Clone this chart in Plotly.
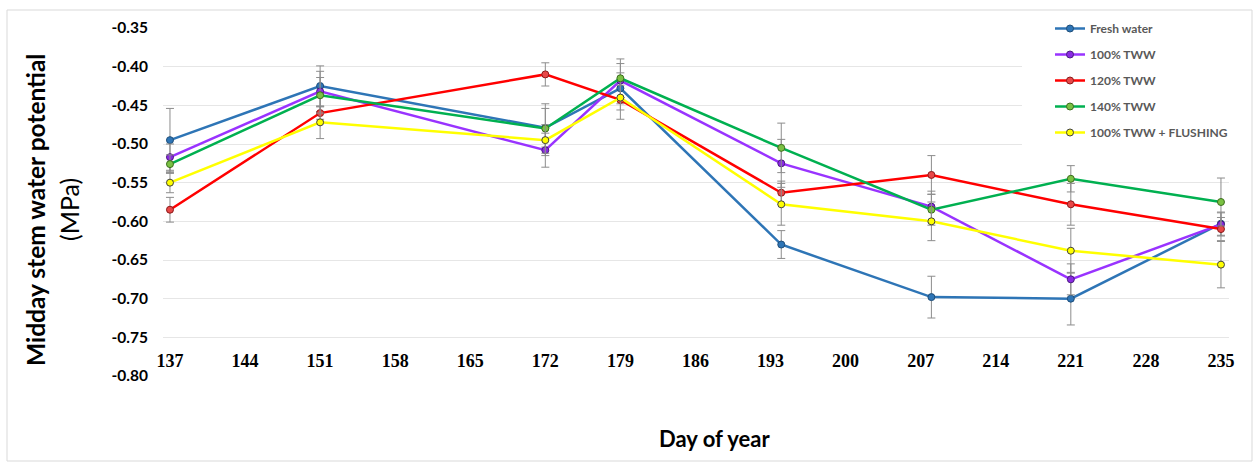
import plotly.graph_objects as go

days = [137, 151, 172, 179, 194, 208, 221, 235]
tick_days = [137, 144, 151, 158, 165, 172, 179, 186, 193, 200, 207, 214, 221, 228, 235]
y_ticks = [-0.35, -0.40, -0.45, -0.50, -0.55, -0.60, -0.65, -0.70, -0.75, -0.80]

series_names = ["Fresh water", "100% TWW", "120% TWW", "140% TWW", "100% TWW + FLUSHING"]

fresh = [-0.495, -0.425, -0.479, -0.428, -0.630, -0.698, -0.700, -0.603]
tww100 = [-0.517, -0.432, -0.508, -0.418, -0.525, -0.581, -0.675, -0.604]
tww120 = [-0.585, -0.460, -0.410, -0.443, -0.563, -0.540, -0.578, -0.610]
tww140 = [-0.526, -0.437, -0.480, -0.415, -0.505, -0.585, -0.545, -0.575]
flush = [-0.550, -0.472, -0.495, -0.440, -0.578, -0.600, -0.638, -0.656]

err_fresh = [0.041, 0.026, 0.025, 0.020, 0.018, 0.027, 0.034, 0.015]
err_100 = [0.017, 0.026, 0.022, 0.022, 0.031, 0.020, 0.020, 0.015]
err_120 = [0.016, 0.008, 0.015, 0.025, 0.015, 0.025, 0.027, 0.015]
err_140 = [0.012, 0.023, 0.032, 0.025, 0.032, 0.020, 0.017, 0.031]
err_flush = [0.013, 0.021, 0.020, 0.016, 0.027, 0.025, 0.029, 0.030]

values = [fresh, tww100, tww120, tww140, flush]
errors = [err_fresh, err_100, err_120, err_140, err_flush]
line_colors = ["#2E75B6", "#9933FF", "#FF0000", "#00B050", "#FFFF00"]
marker_fill = ["#2E75B6", "#8A2BE2", "#E84848", "#7AC143", "#FFFF00"]
marker_edge = ["#1F4E79", "#4B1A80", "#8B1A1A", "#3C6E1E", "#404040"]

fig = go.Figure()
for i, name in enumerate(series_names):
    fig.add_trace(go.Scatter(
        x=days, y=values[i], name=name, mode="lines+markers",
        legendgroup=f"g{i}",
        line=dict(color=line_colors[i], width=2.5),
        marker=dict(size=7, color=marker_fill[i], line=dict(color=marker_edge[i], width=1)),
        error_y=dict(type="data", array=errors[i], visible=True,
                     color="#8C8C8C", thickness=1, width=4),
    ))

L, R, T, B = 163, 25, 28, 86
W, H = 1254, 462
pw, ph = W - L - R, H - T - B

def px_x(px):
    return (px - L) / pw

def px_y(py):
    return (H - B - py) / ph

fig.update_layout(
    width=W, height=H,
    margin=dict(l=L, r=R, t=T, b=B),
    paper_bgcolor="white", plot_bgcolor="white",
    font=dict(family="Lato", color="black"),
    showlegend=True,
    legend=dict(
        x=px_x(1050), y=px_y(14), xanchor="left", yanchor="top",
        bgcolor="white", font=dict(family="Lato", size=12, color="#595959", weight="bold"),
        tracegroupgap=7, itemwidth=30,
    ),
    xaxis=dict(
        range=[136.35, 235.75], tickmode="array", tickvals=tick_days,
        ticktext=[str(d) for d in tick_days],
        showgrid=False, zeroline=False, showline=False, ticks="",
        tickfont=dict(family="Liberation Serif", size=18, color="black", weight="bold"),
        ticklabelstandoff=-28,
    ),
    yaxis=dict(
        range=[-0.80, -0.35], tickmode="array", tickvals=y_ticks,
        ticktext=["%.2f" % v for v in y_ticks],
        showgrid=True, gridcolor="#E6E6E6", gridwidth=1,
        zeroline=False, showline=False, ticks="",
        tickfont=dict(family="Lato", size=15.5, color="black", weight="bold"),
        ticklabelstandoff=14,
    ),
    shapes=[
        dict(type="rect", xref="paper", yref="paper",
             x0=px_x(7), x1=px_x(1252), y0=px_y(461), y1=px_y(10),
             line=dict(color="#D9D9D9", width=1), layer="below"),
        dict(type="rect", xref="paper", yref="paper",
             x0=px_x(1022), x1=px_x(1250), y0=px_y(160), y1=px_y(12),
             line=dict(width=0), fillcolor="white", layer="above"),
    ],
    annotations=[
        dict(text="<b>Midday stem water potential</b>", xref="paper", yref="paper",
             x=px_x(35), y=px_y(210), textangle=-90, showarrow=False,
             font=dict(family="Lato", size=24.5, color="black"),
             xanchor="center", yanchor="middle"),
        dict(text="(MPa)", xref="paper", yref="paper",
             x=px_x(69), y=px_y(210), textangle=-90, showarrow=False,
             font=dict(family="Lato", size=25, color="black"),
             xanchor="center", yanchor="middle"),
        dict(text="<b>Day of year</b>", xref="paper", yref="paper",
             x=px_x(714), y=px_y(438), showarrow=False,
             font=dict(family="Lato", size=22, color="black"),
             xanchor="center", yanchor="middle"),
    ],
)

fig.write_html("out.html")
